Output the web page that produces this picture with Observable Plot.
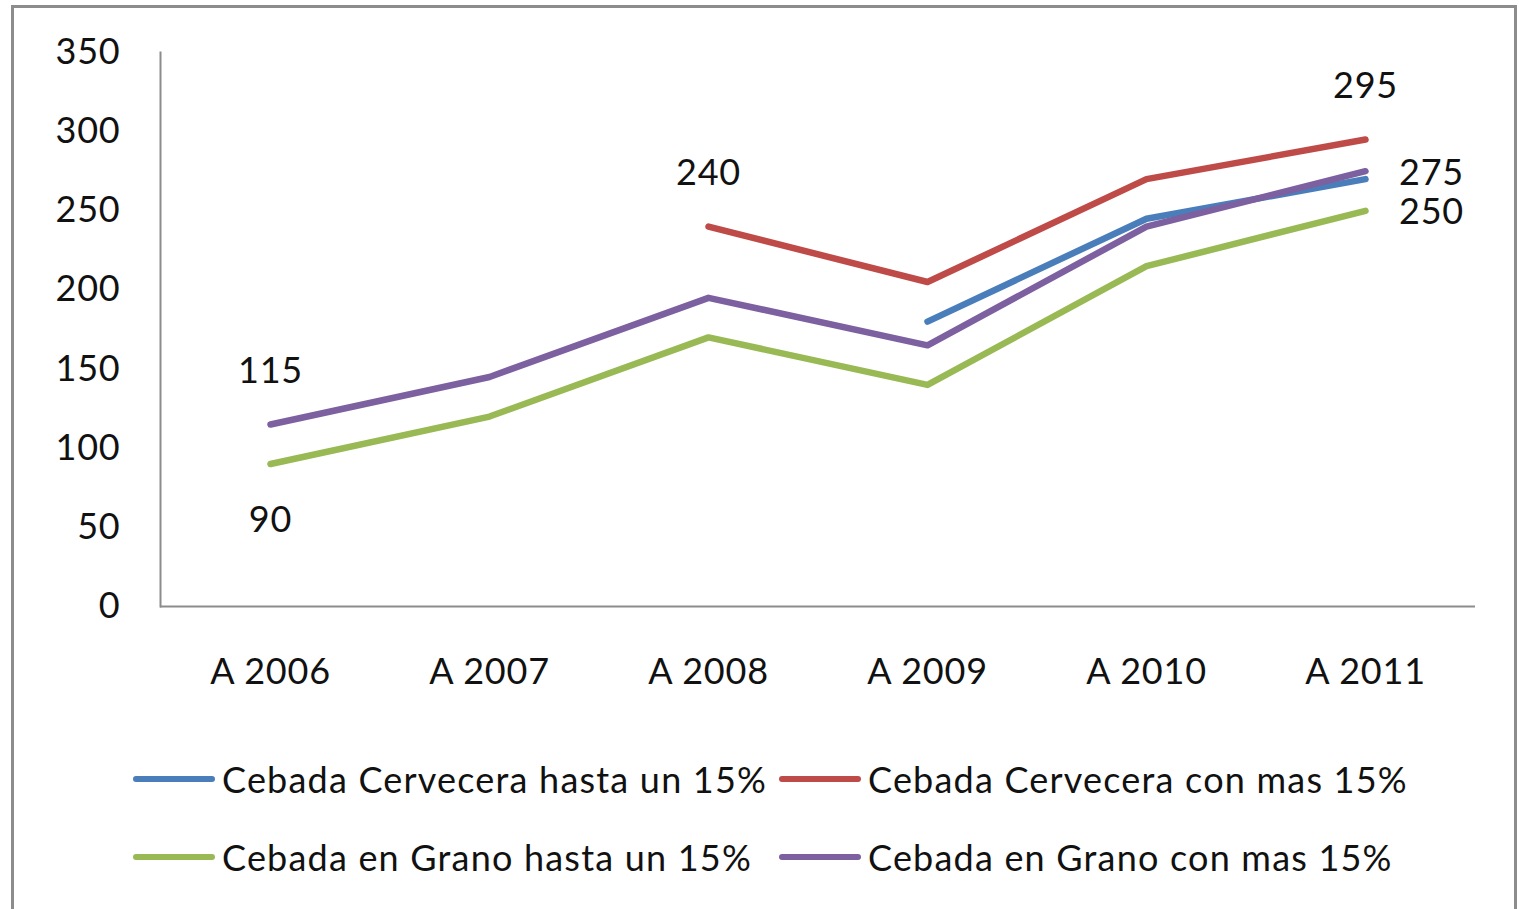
<!DOCTYPE html>
<html>
<head>
<meta charset="utf-8">
<script src="https://cdn.jsdelivr.net/npm/d3@7"></script>
<script src="https://cdn.jsdelivr.net/npm/@observablehq/plot@0.6"></script>
<style>
  html, body { margin: 0; padding: 0; background: #fff; }
  body { width: 1519px; height: 909px; overflow: hidden; position: relative; font-family: Lato, "Open Sans", sans-serif; }
  #frame { position: absolute; left: 11px; top: 5px; width: 1506px; height: 940px; border: 3px solid #8c8c8c; box-sizing: border-box; }
  #chart { position: absolute; left: 0; top: 0; }
  #chart text { letter-spacing: 0.8px; }
  .leg { position: absolute; display: flex; align-items: center; font-size: 36px; color: #111; white-space: pre; letter-spacing: 1.2px; }
  .sw { width: 82px; height: 6px; border-radius: 3px; margin-right: 7px; }
</style>
</head>
<body>
<div id="frame"></div>
<div id="chart"></div>
<div id="legend"></div>
<script>
const categories = ["A 2006", "A 2007", "A 2008", "A 2009", "A 2010", "A 2011"];
const seriesNames = [
  "Cebada Cervecera hasta un 15%",
  "Cebada Cervecera con mas 15%",
  "Cebada en Grano hasta un 15%",
  "Cebada en Grano con mas 15%"
];
const cervHasta = [null, null, null, 180, 245, 270];
const cervMas   = [null, null, 240, 205, 270, 295];
const granoHasta = [90, 120, 170, 140, 215, 250];
const granoMas   = [115, 145, 195, 165, 240, 275];
const seriesColors = ["#4a7ebb", "#be4b48", "#98b954", "#7d60a0"];
const yTicks = [0, 50, 100, 150, 200, 250, 300, 350];
// labelled points: [series index, category index]
const labelsAbove = [[3, 0], [1, 2], [1, 5]];
const labelsBelow = [[2, 0]];
const labelsRight = [[3, 5], [2, 5]];

const allSeries = [cervHasta, cervMas, granoHasta, granoMas];
const data = [];
allSeries.forEach((vals, s) => vals.forEach((v, i) => {
  if (v != null) data.push({series: seriesNames[s], cat: categories[i], value: v});
}));
const lab = arr => arr.map(([s, i]) => ({series: seriesNames[s], cat: categories[i], value: allSeries[s][i]}));

const W = 1519, H = 720;
const plot = Plot.plot({
  width: W,
  height: H,
  marginLeft: 160,
  marginRight: 44,
  marginTop: 52,
  marginBottom: H - 606,
  style: {fontFamily: "Lato, 'Open Sans', sans-serif", fontSize: "36px", color: "#111", background: "transparent"},
  x: {type: "point", domain: categories, padding: 0.5, label: null},
  y: {domain: [0, 350], label: null},
  color: {domain: seriesNames, range: seriesColors},
  marks: [
    Plot.frame({anchor: "left", stroke: "#8c8c8c", strokeWidth: 2}),
    Plot.ruleY([0], {stroke: "#8c8c8c", strokeWidth: 2}),
    Plot.axisY({ticks: yTicks, tickSize: 0, tickPadding: 40, fontSize: 36, label: null}),
    Plot.axisX({tickSize: 0, tickPadding: 52, fontSize: 36, label: null}),
    Plot.line(data, {x: "cat", y: "value", z: "series", stroke: "series", strokeWidth: 6.5, strokeLinecap: "round", strokeLinejoin: "round"}),
    Plot.text(lab(labelsAbove), {x: "cat", y: "value", text: d => String(d.value), dy: -53, fontSize: 36, fill: "#111"}),
    Plot.text(lab(labelsBelow), {x: "cat", y: "value", text: d => String(d.value), dy: 56, fontSize: 36, fill: "#111"}),
    Plot.text(lab(labelsRight), {x: "cat", y: "value", text: d => String(d.value), dx: 66, dy: 2, fontSize: 36, fill: "#111"})
  ]
});
document.getElementById("chart").appendChild(plot);

// legend
const legend = document.getElementById("legend");
const legPos = [[133, 779], [779, 779], [133, 857], [779, 857]];
seriesNames.forEach((name, i) => {
  const d = document.createElement("div");
  d.className = "leg";
  d.style.left = legPos[i][0] + "px";
  d.style.top = (legPos[i][1] - 24) + "px";
  d.style.height = "48px";
  const sw = document.createElement("span");
  sw.className = "sw";
  sw.style.background = seriesColors[i];
  d.appendChild(sw);
  const t = document.createElement("span");
  t.textContent = name;
  d.appendChild(t);
  legend.appendChild(d);
});
</script>
</body>
</html>
